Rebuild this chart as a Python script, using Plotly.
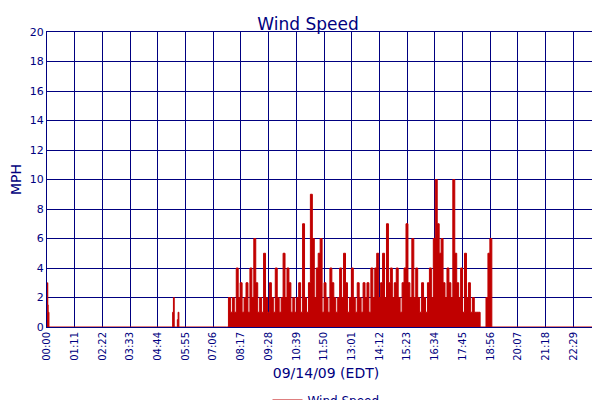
import plotly.graph_objects as go
import pandas as pd

early_times = ["00:00","00:01","00:02","00:03","00:05","05:20","05:22","05:24","05:26","05:32","05:34","05:36","05:38"]
early_vals = [1,3,1.5,1,0,0,1,2,0,0,0.5,1,0]

active_vals = [0,2,1,2,1,4,2,3,
 1,2,3,1,4,2,6,3,
 1,2,1,5,2,1,3,2,
 1,4,2,1,2,5,2,4,
 3,1,2,1,2,3,1,7,
 2,1,3,9,6,2,4,5,
 6,1,3,2,1,4,3,2,
 1,2,4,2,5,3,1,2,
 4,2,1,3,2,1,3,2,
 3,1,4,2,4,5,2,3,
 5,2,7,3,4,2,3,4,
 2,1,3,4,7,3,2,6,
 2,4,2,1,3,2,1,3,
 4,2,6,10,7,5,6,3,
 2,4,3,2,10,5,3,2,
 4,1,5,2,3,1,2,1,
 1,1,0,0,0,2,5,6,
 0]
active_start = "07:40"
active_step_min = 5
end_time = "23:49"

tick_labels = ["00:00","01:11","02:22","03:33","04:44","05:55","07:06","08:17","09:28","10:39",
               "11:50","13:01","14:12","15:23","16:34","17:45","18:56","20:07","21:18","22:29","23:40","23:49"]

day = "2009-09-14 "
t0 = pd.Timestamp(day + active_start)
active_times = [t0 + pd.Timedelta(minutes=active_step_min*i) for i in range(len(active_vals))]
xs = [pd.Timestamp(day + t) for t in early_times] + active_times + [pd.Timestamp(day + end_time)]
ys = early_vals + active_vals + [0]

red = "#c00000"
fig = go.Figure()
fig.add_trace(go.Scatter(x=xs, y=ys, mode="lines", line=dict(color=red, width=1, shape="hv"),
                         fill="tozeroy", fillcolor=red, name="Wind Speed", showlegend=False))
fig.add_trace(go.Scatter(x=[None], y=[None], mode="lines", line=dict(color=red, width=2),
                         name="Wind Speed", showlegend=True))
navy = "#000080"
fig.update_layout(
    width=600, height=400, plot_bgcolor="white", paper_bgcolor="white",
    margin=dict(l=39, r=3, t=24, b=81, autoexpand=False),
    title=dict(text="Wind Speed", x=0.5, y=0.975, xanchor="center", font=dict(family="DejaVu Sans", size=17, color=navy)),
    font=dict(family="DejaVu Sans", size=11, color=navy),
    xaxis=dict(range=[pd.Timestamp(day+"00:00"), pd.Timestamp(day+"23:50")], automargin=False,
               tickvals=[pd.Timestamp(day+t) for t in tick_labels], ticktext=tick_labels, tickangle=-90,
               showgrid=True, gridcolor=navy, gridwidth=1, showline=True, linecolor=navy, mirror=True,
               tickfont=dict(size=10, color=navy),
               title=dict(text="09/14/09 (EDT)", font=dict(size=14, color=navy), standoff=8)),
    yaxis=dict(range=[0, 20], dtick=2, showgrid=True, gridcolor=navy, gridwidth=1, showline=True, linecolor=navy,
               mirror=True, zeroline=False, automargin=False, tickfont=dict(size=11, color=navy),
               title=dict(text="MPH", font=dict(size=14, color=navy), standoff=6)),
    legend=dict(orientation="h", x=0.5, xanchor="center", y=-0.2, yanchor="top", font=dict(size=12, color=navy)),
)
fig.write_html("out.html")
